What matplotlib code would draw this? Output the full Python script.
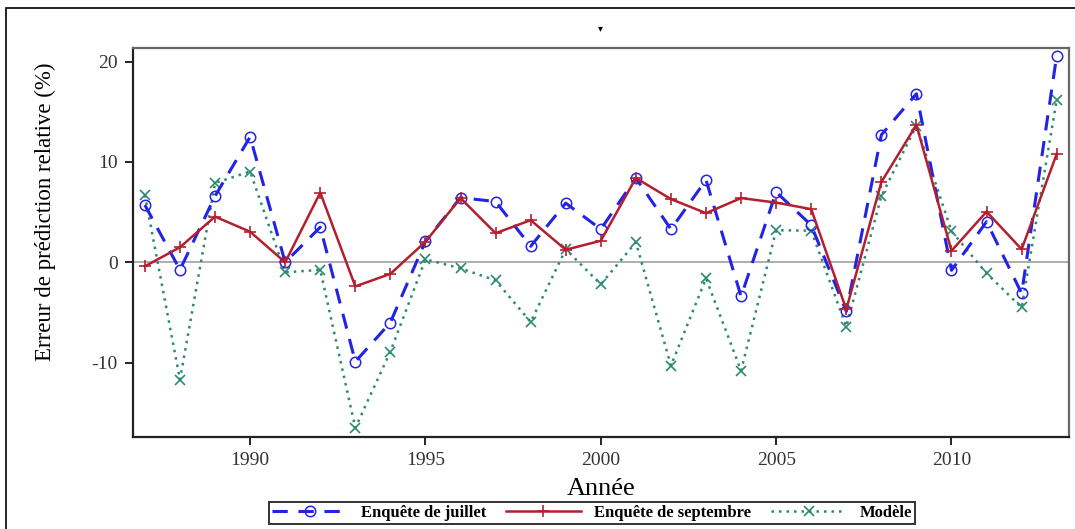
import matplotlib.pyplot as plt
from matplotlib.patches import Rectangle

years = list(range(1987, 2014))
juillet = [5.7, -0.75, 6.6, 12.5, 0.0, 3.5, -9.9, -6.0, 2.1, 6.45, 6.05, 1.6, 5.9, 3.3,
           8.4, 3.3, 8.2, -3.4, 7.0, 3.7, -4.9, 12.7, 16.8, -0.8, 4.05, -3.1, 20.6]
septembre = [-0.4, 1.5, 4.55, 3.05, 0.0, 6.95, -2.4, -1.15, 2.05, 6.4, 2.9, 4.2, 1.25, 2.15,
             8.4, 6.3, 4.9, 6.4, 5.95, 5.3, -4.7, 8.0, 13.7, 1.15, 5.05, 1.3, 10.8]
modele = [6.7, -11.7, 7.9, 9.05, -1.0, -0.75, -16.5, -8.9, 0.3, -0.6, -1.8, -5.95, 1.3, -2.2,
          2.0, -10.3, -1.6, -10.8, 3.2, 3.15, -6.4, 6.6, 13.6, 3.1, -1.1, -4.5, 16.2]
xticks = [1990, 1995, 2000, 2005, 2010]
yticks = [-10, 0, 10, 20]

plt.rcParams['font.family'] = ['Liberation Serif', 'DejaVu Serif']
plt.rcParams['axes.unicode_minus'] = False

fig = plt.figure(figsize=(10.75, 5.29), dpi=100)
ax = fig.add_axes([0.1237, 0.1739, 0.8707, 0.7354])

# outer frame of the picture
fig.patches.append(Rectangle((6 / 1075, -0.05), 1.1, 1 - 8 / 529 + 0.05, transform=fig.transFigure,
                             fill=False, edgecolor='black', linewidth=1.2))

ax.axhline(0, color='#a0a0a0', linewidth=1.2, zorder=1)

ax.plot(years, juillet, color='#2323e6', linestyle=(0, (5, 3.5)), linewidth=2.2,
        marker='o', markersize=7.5, markerfacecolor='none', markeredgewidth=1.1,
        label='Enquête de juillet', zorder=3)
ax.plot(years, septembre, color='#b41f30', linestyle='-', linewidth=1.8,
        marker='+', markersize=9, markeredgewidth=1.2,
        label='Enquête de septembre', zorder=4)
ax.plot(years, modele, color='#2a8a70', linestyle=(0, (1, 2)), linewidth=1.8,
        marker='x', markersize=7, markeredgewidth=1.2,
        label='Modèle', zorder=2)

ax.set_xlim(1986.66, 2013.35)
ax.set_ylim(-17.41, 21.36)
ax.set_xticks(xticks)
ax.set_yticks(yticks)
ax.tick_params(axis='both', direction='out', length=6, width=1.2, labelsize=14, colors='black',
               labelcolor='#333333', pad=5)

for side in ['left', 'bottom']:
    ax.spines[side].set_linewidth(1.6)
    ax.spines[side].set_color('#222222')
for side in ['top', 'right']:
    ax.spines[side].set_linewidth(1.6)
    ax.spines[side].set_color('#666666')

ax.set_xlabel('Année', fontsize=19, labelpad=6)
ax.set_ylabel('Erreur de prédiction relative (%)', fontsize=16.5)
ax.yaxis.set_label_coords(-0.082, 0.58)

fig.text(600 / 1075, 1 - 28 / 529, '▾', ha='center', va='center', fontsize=7,
         family=['DejaVu Sans'])

leg = fig.legend(loc='center', bbox_to_anchor=(592 / 1075, 1 - 513 / 529), ncol=3,
                 frameon=True, fancybox=False, edgecolor='black',
                 handlelength=4.5, columnspacing=1.2, borderpad=0.2, handletextpad=0.8,
                 prop={'weight': 'bold', 'size': 12})
leg.get_frame().set_linewidth(1.4)

plt.savefig('out.png', dpi=100)
